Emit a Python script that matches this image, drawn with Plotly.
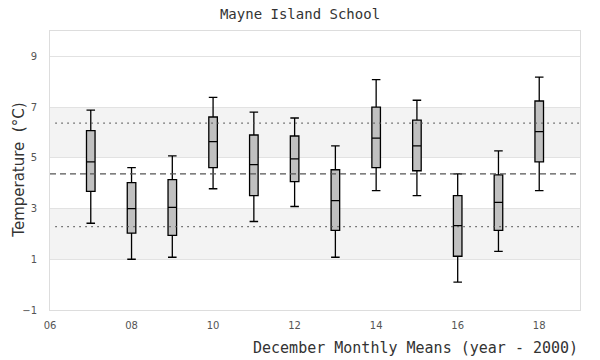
import plotly.graph_objects as go

years = [7, 8, 9, 10, 11, 12, 13, 14, 15, 16, 17, 18]
lower = [2.42, 1.00, 1.08, 3.78, 2.49, 3.08, 1.08, 3.71, 3.51, 0.10, 1.31, 3.71]
q1 = [3.68, 2.03, 1.94, 4.61, 3.51, 4.06, 2.14, 4.61, 4.49, 1.12, 2.14, 4.84]
median = [4.84, 3.00, 3.05, 5.64, 4.73, 4.96, 3.31, 5.78, 5.47, 2.33, 3.24, 6.03]
q3 = [6.07, 4.02, 4.14, 6.61, 5.90, 5.86, 4.53, 7.00, 6.49, 3.51, 4.33, 7.24]
upper = [6.88, 4.61, 5.08, 7.38, 6.80, 6.57, 5.47, 8.08, 7.27, 4.37, 5.27, 8.18]

overall_mean = 4.37
upper_ref = 6.37
lower_ref = 2.29

x_tickvals = [6, 8, 10, 12, 14, 16, 18]
x_ticktext = ["06", "08", "10", "12", "14", "16", "18"]
y_tickvals = [-1, 1, 3, 5, 7, 9]
bands = [(1, 3), (5, 7)]

fig = go.Figure()
fig.add_trace(go.Box(
    x=years, q1=q1, median=median, q3=q3,
    lowerfence=lower, upperfence=upper,
    width=0.21, whiskerwidth=1,
    fillcolor="#c0c0c0",
    line=dict(color="black", width=1.3),
    boxpoints=False, hoverinfo="skip", showlegend=False,
))

shapes = []
for lo, hi in bands:
    shapes.append(dict(type="rect", xref="paper", yref="y", x0=0, x1=1, y0=lo, y1=hi,
                       fillcolor="#f3f3f3", line=dict(width=0), layer="below"))
shapes.append(dict(type="line", xref="paper", yref="y", x0=0, x1=0.995,
                   y0=overall_mean, y1=overall_mean,
                   line=dict(color="#555555", width=1.3, dash="6px,4px"), layer="above"))
for v in (upper_ref, lower_ref):
    shapes.append(dict(type="line", xref="paper", yref="y", x0=0.01, x1=1, y0=v, y1=v,
                       line=dict(color="#555555", width=1.3, dash="1.5px,4.5px"), layer="above"))

fig.update_layout(
    width=600, height=360,
    margin=dict(l=50, r=20, t=31, b=50, autoexpand=False),
    paper_bgcolor="white", plot_bgcolor="white",
    shapes=shapes,
    title=dict(text="Mayne Island School", x=0.5, xanchor="center", y=0.96, yanchor="middle",
               font=dict(family="DejaVu Sans Mono", size=14, color="#333333")),
    xaxis=dict(range=[6, 19], tickvals=x_tickvals, ticktext=x_ticktext,
               showgrid=False, zeroline=False, automargin=False,
               showline=True, mirror=True, linecolor="#dddddd", linewidth=1,
               ticks="", ticklabelstandoff=6,
               tickfont=dict(family="DejaVu Sans", size=10, color="#555555")),
    yaxis=dict(range=[-1, 10], tickvals=y_tickvals,
               showgrid=True, gridcolor="#e2e2e2", gridwidth=1, zeroline=False, automargin=False,
               showline=True, mirror=True, linecolor="#dddddd", linewidth=1,
               ticks="", ticklabelstandoff=10,
               tickfont=dict(family="DejaVu Sans", size=10, color="#555555")),
)
fig.add_annotation(text="Temperature&nbsp; (°C)", xref="paper", yref="paper",
                   x=-0.06, xanchor="center", y=0.5, yanchor="middle", textangle=-90,
                   showarrow=False,
                   font=dict(family="DejaVu Sans", size=15, color="#333333"))
fig.add_annotation(text="December Monthly Means (year - 2000)", xref="paper", yref="paper",
                   x=1.0, xanchor="right", y=-0.135, yanchor="middle", showarrow=False,
                   font=dict(family="DejaVu Sans Mono", size=15, color="#333333"))

fig.write_html("out.html", config={"displayModeBar": False},
               post_script="document.body.style.margin='0';")
